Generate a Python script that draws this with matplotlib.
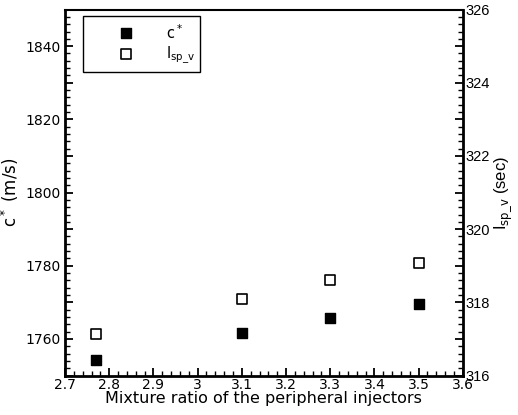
import matplotlib
matplotlib.use("Agg")
import matplotlib.pyplot as plt
from matplotlib.ticker import MultipleLocator, FuncFormatter
from matplotlib.patches import Rectangle

# mixture ratio of the peripheral injectors
mixture_ratio = [2.77, 3.1, 3.3, 3.5]
# characteristic velocity c* (m/s), left axis
c_star = [1754.3, 1761.7, 1765.8, 1769.6]
# vacuum specific impulse (sec), right axis
isp_v = [317.14, 318.08, 318.62, 319.07]

plt.rcParams['font.family'] = ['DejaVu Sans']

rect = [0.1255, 0.095, 0.768, 0.882]
fig = plt.figure(figsize=(5.18, 4.15), dpi=100)
ax = fig.add_axes(rect)
# right axis as a second axes on top, no frame and no x axis of its own
ax2 = fig.add_axes(rect, frameon=False)
ax2.xaxis.set_visible(False)
ax2.yaxis.tick_right()
ax2.yaxis.set_label_position('right')

ax.scatter(mixture_ratio, c_star, marker='s', s=55, color='black', zorder=3)
ax2.scatter(mixture_ratio, isp_v, marker='s', s=55, facecolor='white',
            edgecolor='black', linewidth=1.2, zorder=3)

ax.set_xlim(2.7, 3.6)
ax2.set_xlim(2.7, 3.6)
ax.set_ylim(1750, 1850)
ax2.set_ylim(316, 326)

ax.xaxis.set_major_locator(MultipleLocator(0.1))
ax.xaxis.set_minor_locator(MultipleLocator(0.02))
ax.xaxis.set_major_formatter(FuncFormatter(lambda v, p: ('%g' % round(v, 2))))

ax.yaxis.set_major_locator(MultipleLocator(10))
ax.yaxis.set_minor_locator(MultipleLocator(2))
ax.yaxis.set_major_formatter(FuncFormatter(lambda v, p: '%d' % v if round(v) % 20 == 0 else ''))

ax2.yaxis.set_major_locator(MultipleLocator(1))
ax2.yaxis.set_minor_locator(MultipleLocator(0.2))
ax2.yaxis.set_major_formatter(FuncFormatter(lambda v, p: '%d' % v if round(v) % 2 == 0 else ''))

ax.xaxis.set_ticks_position('bottom')
ax.yaxis.set_ticks_position('left')
ax.tick_params(axis='x', which='major', direction='in', length=6, width=1.3,
               labelsize=10, pad=2)
ax.tick_params(axis='x', which='minor', direction='in', length=3.5, width=1)
ax.tick_params(axis='y', which='major', direction='in', length=6, width=1.3,
               labelsize=10, pad=3)
ax.tick_params(axis='y', which='minor', direction='in', length=3.5, width=1)
ax2.tick_params(axis='y', which='major', direction='in', length=6, width=1.3,
                labelsize=10.5, pad=2, left=False, right=True)
ax2.tick_params(axis='y', which='minor', direction='in', length=3.5, width=1,
                left=False, right=True)
for lab in ax2.get_yticklabels():
    lab.set_family('Liberation Sans')
for t in ax.xaxis.get_major_ticks() + ax.xaxis.get_minor_ticks():
    t.tick2line.set_visible(False)

ax.spines['left'].set_linewidth(2)
ax.spines['bottom'].set_linewidth(2)
ax.spines['right'].set_linewidth(2)
ax.spines['top'].set_linewidth(1.5)

ax.set_xlabel('Mixture ratio of the peripheral injectors', fontsize=11.5, labelpad=-1)
ax.set_ylabel('c$^*$ (m/s)', fontsize=12)
ax.yaxis.set_label_coords(-0.11, 0.5)
ax2.set_ylabel(r'I$_{\mathrm{sp\_v}}$ (sec)', fontsize=12, family='Liberation Sans',
               rotation=90, labelpad=2)

# legend box drawn by hand in axes coordinates
ax2.add_patch(Rectangle((0.045, 0.83), 0.295, 0.152, transform=ax2.transAxes,
                        facecolor='white', edgecolor='black', linewidth=1, zorder=4))
ax2.scatter([0.153], [0.937], marker='s', s=55, color='black', transform=ax2.transAxes, zorder=5)
ax2.scatter([0.153], [0.878], marker='s', s=55, facecolor='white', edgecolor='black',
            linewidth=1.2, transform=ax2.transAxes, zorder=5)
ax2.text(0.255, 0.937, 'c$^*$', transform=ax2.transAxes, va='center', fontsize=10.5, zorder=5)
ax2.text(0.255, 0.875, r'I$_{\mathrm{sp\_v}}$', transform=ax2.transAxes, va='center',
         fontsize=10.5, zorder=5)

fig.savefig('out.png', dpi=100)
